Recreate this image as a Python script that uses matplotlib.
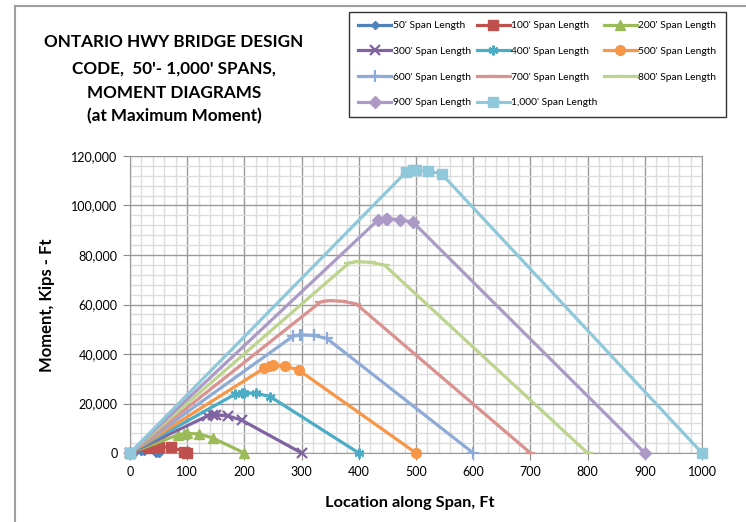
import matplotlib.pyplot as plt
from matplotlib.lines import Line2D
from matplotlib.ticker import MultipleLocator, FuncFormatter

plt.rcParams['font.family'] = ['Lato', 'DejaVu Sans']

span_labels = ["50' Span Length", "100' Span Length", "200' Span Length",
               "300' Span Length", "400' Span Length", "500' Span Length",
               "600' Span Length", "700' Span Length", "800' Span Length",
               "900' Span Length", "1,000' Span Length"]

x_50 = [0, 9, 20, 25, 46, 50]
m_50 = [0, 450, 650, 650, 200, 0]
x_100 = [0, 34, 45, 50, 71, 95, 100]
m_100 = [0, 1900, 2300, 2400, 2400, 600, 0]
x_200 = [0, 84, 95, 100, 121, 145, 200]
m_200 = [0, 7300, 7800, 7900, 7700, 6000, 0]
x_300 = [0, 134, 145, 150, 171, 195, 300]
m_300 = [0, 14800, 15300, 15400, 15000, 13300, 0]
x_400 = [0, 184, 195, 200, 221, 245, 400]
m_400 = [0, 23800, 24200, 24300, 24100, 22800, 0]
x_500 = [0, 234, 245, 250, 271, 295, 500]
m_500 = [0, 34200, 35300, 35400, 35100, 33500, 0]
x_600 = [0, 285, 297, 300, 321, 344, 600]
m_600 = [0, 47200, 47700, 47700, 47500, 46300, 0]
x_700 = [0, 333, 345, 350, 371, 395, 700]
m_700 = [0, 61000, 61500, 61600, 61300, 60300, 0]
x_800 = [0, 383, 395, 400, 421, 445, 800]
m_800 = [0, 76800, 77300, 77300, 77000, 75900, 0]
x_900 = [0, 433, 448, 450, 472, 495, 900]
m_900 = [0, 94000, 94500, 94600, 94300, 93200, 0]
x_1000 = [0, 483, 495, 500, 521, 545, 1000]
m_1000 = [0, 113600, 114200, 114300, 114000, 112700, 0]

xs = [x_50, x_100, x_200, x_300, x_400, x_500, x_600, x_700, x_800, x_900, x_1000]
ms = [m_50, m_100, m_200, m_300, m_400, m_500, m_600, m_700, m_800, m_900, m_1000]

colors = ['#4F81BD', '#C0504D', '#9BBB59', '#8064A2', '#4BACC6', '#F79646',
          '#8EABD8', '#D9928F', '#BDD48F', '#AA9AC5', '#8FC8DA']
markers = ['D', 's', '^', 'x', (6, 2, 0), 'o', '+', '_', '_', 'D', 's']
msizes = [4, 7, 7, 7, 7, 7, 8, 7, 7, 6, 7.5]

fig = plt.figure(figsize=(7.46, 5.22), dpi=100)
ax = fig.add_axes([130 / 746, 1 - 453 / 522, 572 / 746, 297 / 522])

handles = []
for i in range(len(xs)):
    mk = markers[i]
    thin = mk in ('x', '+', '_') or isinstance(mk, tuple)
    (h,) = ax.plot(xs[i], ms[i], color=colors[i], lw=2.3, marker=mk,
                   markersize=msizes[i], markeredgewidth=1.6 if thin else 1,
                   markerfacecolor=colors[i], markeredgecolor=colors[i],
                   label=span_labels[i], clip_on=False, zorder=3 + i)
    handles.append(h)

ax.set_xlim(0, 1000)
ax.set_ylim(0, 120000)
ax.xaxis.set_major_locator(MultipleLocator(100))
ax.xaxis.set_minor_locator(MultipleLocator(20))
ax.yaxis.set_major_locator(MultipleLocator(20000))
ax.yaxis.set_minor_locator(MultipleLocator(4000))
ax.yaxis.set_major_formatter(FuncFormatter(lambda v, p: f"{int(v):,}"))
ax.grid(which='major', color='#9a9a9a', lw=1.0)
ax.grid(which='minor', color='#dcdcdc', lw=1.0)
ax.set_axisbelow(True)
for s in ax.spines.values():
    s.set_color('#9a9a9a')
ax.tick_params(which='major', length=5, color='#8a8a8a', labelsize=9, pad=4)
ax.tick_params(which='minor', length=0)

# excel fills the legend row by row, matplotlib column by column
order = [0, 3, 6, 9, 1, 4, 7, 10, 2, 5, 8]
leg = fig.legend([handles[k] for k in order], [span_labels[k] for k in order],
                 ncols=3, loc='upper left', bbox_to_anchor=(349 / 746, 1 - 12 / 522),
                 fontsize=7.4, frameon=True, fancybox=False, edgecolor='black',
                 handlelength=3.2, handletextpad=0.15, columnspacing=0.6,
                 labelspacing=1.6, borderpad=0.9, borderaxespad=0)
leg.get_frame().set_linewidth(1.0)

title_lines = ["ONTARIO HWY BRIDGE DESIGN", "CODE,  50'- 1,000' SPANS,",
               "MOMENT DIAGRAMS", "(at Maximum Moment)"]
baselines = [47.3, 73.3, 98.3, 121.7]
for t, b in zip(title_lines, baselines):
    fig.text(174 / 746, 1 - b / 522, t, ha='center', va='baseline',
             fontsize=12.3, fontweight='bold')

fig.text(410 / 746, 1 - 503 / 522, 'Location along Span, Ft', ha='center',
         va='center', fontsize=11.8, fontweight='bold')
fig.text(47 / 746, 1 - 305 / 522, 'Moment, Kips - Ft', ha='center', va='center',
         rotation=90, fontsize=12, fontweight='bold')

fig.add_artist(Line2D([15 / 746, 15 / 746], [0, 1 - 6 / 522], color='#a0a0a0', lw=1.5))
fig.add_artist(Line2D([15 / 746, 1], [1 - 6 / 522, 1 - 6 / 522], color='#a0a0a0', lw=1.5))

fig.savefig('out.png', dpi=100)
